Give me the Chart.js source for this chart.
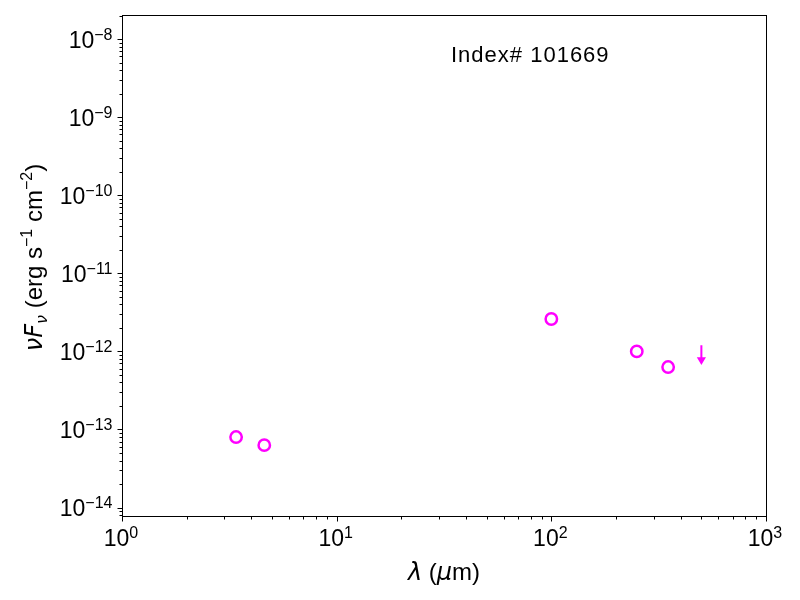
<!DOCTYPE html>
<html>
<head>
<meta charset="utf-8">
<script src="https://cdn.jsdelivr.net/npm/chart.js@4.4.1/dist/chart.umd.min.js"></script>
<style>
  html, body { margin: 0; padding: 0; background: #fff; }
  #wrap { width: 800px; height: 600px; position: relative; }
</style>
</head>
<body>
<div id="wrap"><canvas id="sed"></canvas></div>
<script>
// data
const wavelengths = [3.4, 4.6, 100, 250, 350];
const fluxes = [8.0e-14, 6.3e-14, 2.6e-12, 1.0e-12, 6.3e-13];
// upper limit: start of the arrow and centre of its head
const limitWavelength = [500, 500];
const limitFlux = [1.2e-12, 7.8e-13];
const xTickExps = [0, 1, 2, 3];
const yTickExps = [-14, -13, -12, -11, -10, -9, -8];
const labelText = "Index# 101669";

const MAGENTA = "#ff00ff";
const SANS = "'Liberation Sans', Arial, sans-serif";
const MATH = "'DejaVu Sans', sans-serif";

function supText(e) {
    return e < 0 ? "\u2212" + Math.abs(e) : String(e);
}

// draw a row of text pieces, each with its own font and vertical offset
function richWidth(ctx, parts) {
    let w = 0;
    parts.forEach(p => { ctx.font = p.font; w += ctx.measureText(p.text).width; });
    return w;
}
function drawRich(ctx, parts, x, y) {
    let cx = x;
    parts.forEach(p => {
        ctx.font = p.font;
        ctx.fillText(p.text, cx, y + (p.dy || 0));
        cx += ctx.measureText(p.text).width;
    });
}
function powerParts(e) {
    return [
        { text: "10", font: "23px " + SANS },
        { text: supText(e), font: "16px " + SANS, dy: -8 }
    ];
}

const axesPlugin = {
    id: "mplAxes",
    afterDraw(chart) {
        const ctx = chart.ctx;
        const a = chart.chartArea;
        const xs = chart.scales.x, ys = chart.scales.y;
        ctx.save();
        ctx.strokeStyle = "#000";
        ctx.fillStyle = "#000";
        ctx.lineWidth = 1;

        // frame
        const L = Math.round(a.left) + 0.5, R = Math.round(a.right) + 0.5;
        const T = Math.round(a.top) + 0.5, B = Math.round(a.bottom) + 0.5;
        ctx.strokeRect(L, T, R - L, B - T);

        // ticks, outward on bottom and left
        ctx.beginPath();
        for (let e = xTickExps[0]; e <= xTickExps[xTickExps.length - 1]; e++) {
            for (let m = 1; m <= 9; m++) {
                const v = m * Math.pow(10, e);
                if (v < xs.min || v > xs.max) continue;
                const px = Math.round(xs.getPixelForValue(v)) + 0.5;
                const len = m === 1 ? 5 : 3;
                ctx.moveTo(px, B);
                ctx.lineTo(px, B + len);
            }
        }
        for (let e = yTickExps[0] - 1; e <= yTickExps[yTickExps.length - 1]; e++) {
            for (let m = 1; m <= 9; m++) {
                const v = m * Math.pow(10, e);
                if (v < ys.min || v > ys.max) continue;
                const py = Math.round(ys.getPixelForValue(v)) + 0.5;
                const len = m === 1 ? 5 : 3;
                ctx.moveTo(L, py);
                ctx.lineTo(L - len, py);
            }
        }
        ctx.stroke();

        // tick labels
        ctx.textBaseline = "alphabetic";
        ctx.textAlign = "left";
        xTickExps.forEach(e => {
            const px = xs.getPixelForValue(Math.pow(10, e));
            const parts = powerParts(e);
            const w = richWidth(ctx, parts);
            drawRich(ctx, parts, px - w / 2 - 1, B + 29);
        });
        yTickExps.forEach(e => {
            const py = ys.getPixelForValue(Math.pow(10, e));
            const parts = powerParts(e);
            const w = richWidth(ctx, parts);
            drawRich(ctx, parts, L - 10 - w, py + 8.5);
        });

        // x axis title
        const xt = [
            { text: "\u03bb", font: "italic 24px " + MATH },
            { text: " (", font: "24px " + SANS },
            { text: "\u03bc", font: "italic 24px " + MATH },
            { text: "m)", font: "24px " + SANS }
        ];
        const xw = richWidth(ctx, xt);
        drawRich(ctx, xt, (a.left + a.right) / 2 - xw / 2, B + 63);

        // y axis title, rotated
        const yt = [
            { text: "\u03bd", font: "italic 24px " + MATH },
            { text: "F", font: "italic 24px " + MATH },
            { text: "\u03bd", font: "italic 16px " + MATH, dy: 5 },
            { text: " (erg s", font: "24px " + SANS },
            { text: "\u22121", font: "16px " + SANS, dy: -10 },
            { text: " cm", font: "24px " + SANS },
            { text: "\u22122", font: "16px " + SANS, dy: -10 },
            { text: ")", font: "24px " + SANS }
        ];
        const yw = richWidth(ctx, yt);
        ctx.save();
        ctx.translate(42, (a.top + a.bottom) / 2 - 8);
        ctx.rotate(-Math.PI / 2);
        drawRich(ctx, yt, -yw / 2, 0);
        ctx.restore();

        // object label inside the axes
        ctx.font = "22px " + SANS;
        ctx.textAlign = "center";
        ctx.textBaseline = "middle";
        if ("letterSpacing" in ctx) ctx.letterSpacing = "1px";
        ctx.fillText(labelText, a.left + 0.634 * (a.right - a.left), a.top + 0.082 * (a.bottom - a.top));
        ctx.restore();
    }
};

new Chart(document.getElementById("sed"), {
    type: "scatter",
    data: {
        datasets: [{
            label: "photometry",
            data: wavelengths.map((w, i) => ({ x: w, y: fluxes[i] })),
            pointStyle: "circle",
            pointRadius: 5.7,
            pointHoverRadius: 5.7,
            pointBorderWidth: 2.5,
            pointBorderColor: MAGENTA,
            pointBackgroundColor: "rgba(0,0,0,0)",
            showLine: false
        }, {
            label: "upper limit",
            type: "line",
            data: limitWavelength.map((w, i) => ({ x: w, y: limitFlux[i] })),
            showLine: true,
            borderColor: MAGENTA,
            borderWidth: 2,
            pointStyle: "triangle",
            pointRotation: 180,
            pointRadius: [0, 5.3],
            pointHoverRadius: [0, 5.3],
            pointBorderWidth: 0,
            pointBackgroundColor: MAGENTA
        }]
    },
    options: {
        responsive: true,
        maintainAspectRatio: false,
        animation: false,
        layout: { padding: { left: 122, right: 34, top: 15, bottom: 84 } },
        plugins: { legend: { display: false }, tooltip: { enabled: false } },
        scales: {
            x: { type: "logarithmic", min: 1, max: 1000, display: false },
            y: { type: "logarithmic", min: 7.8e-15, max: 2.03e-8, display: false }
        }
    },
    plugins: [axesPlugin]
});
</script>
</body>
</html>
